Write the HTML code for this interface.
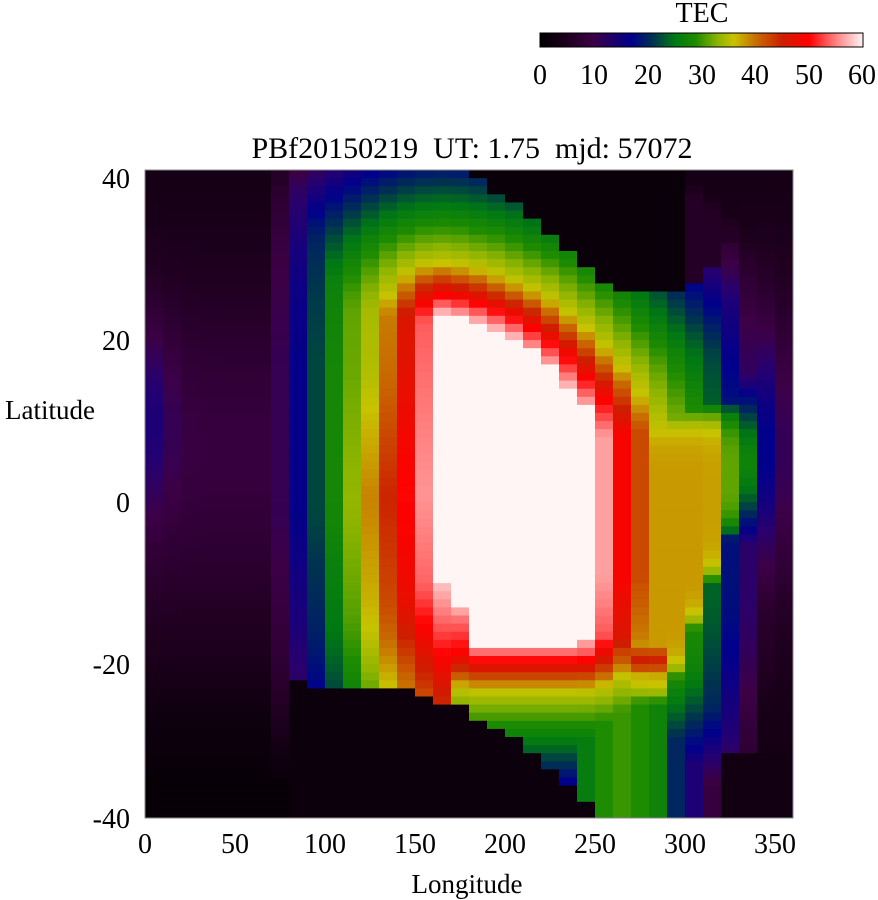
<!DOCTYPE html>
<html><head><meta charset="utf-8"><style>
html,body{margin:0;padding:0;background:#fff;}
svg{display:block;font-family:"Liberation Serif",serif;}
</style></head><body>
<svg id="s" width="878" height="900" xmlns="http://www.w3.org/2000/svg">
<defs>
<linearGradient id="cb" x1="0" x2="1" y1="0" y2="0">
<stop offset="0" stop-color="#000000"/>
<stop offset="0.083" stop-color="#1e001e"/>
<stop offset="0.167" stop-color="#3c0046"/>
<stop offset="0.283" stop-color="#00008c"/>
<stop offset="0.35" stop-color="#003250"/>
<stop offset="0.417" stop-color="#007814"/>
<stop offset="0.483" stop-color="#1e8c00"/>
<stop offset="0.55" stop-color="#8cb400"/>
<stop offset="0.6" stop-color="#c8c300"/>
<stop offset="0.667" stop-color="#c86e00"/>
<stop offset="0.75" stop-color="#cd1e00"/>
<stop offset="0.833" stop-color="#ff0000"/>
<stop offset="0.917" stop-color="#ff8282"/>
<stop offset="1" stop-color="#fff5f5"/>
</linearGradient>
</defs>
<g id="heat"></g>
<rect x="145" y="170" width="648" height="648" fill="none" stroke="#888" stroke-width="1"/>
<text x="702" y="22" font-size="28" text-anchor="middle">TEC</text>
<rect x="540" y="33" width="323" height="14" fill="url(#cb)" stroke="#000" stroke-width="1"/>
<g font-size="28" text-anchor="middle">
<text x="540" y="84">0</text><text x="594" y="84">10</text><text x="648" y="84">20</text>
<text x="702" y="84">30</text><text x="755" y="84">40</text><text x="809" y="84">50</text><text x="862" y="84">60</text>
</g>
<text x="472" y="158" font-size="30" text-anchor="middle" style="white-space:pre" xml:space="preserve">PBf20150219  UT: 1.75  mjd: 57072</text>
<g font-size="28" text-anchor="end">
<text x="130" y="188">40</text><text x="130" y="350">20</text><text x="130" y="512">0</text>
<text x="130" y="674">-20</text><text x="130" y="828">-40</text>
</g>
<g font-size="28" text-anchor="middle">
<text x="145" y="853">0</text><text x="235" y="853">50</text><text x="325" y="853">100</text>
<text x="415" y="853">150</text><text x="505" y="853">200</text><text x="595" y="853">250</text>
<text x="685" y="853">300</text><text x="775" y="853">350</text>
</g>
<text x="50" y="419" font-size="27" text-anchor="middle">Latitude</text>
<text x="467" y="893" font-size="27" text-anchor="middle">Longitude</text>
</svg>
<script>
(function(){
var stops=[[0,0,0,0],[5,30,0,30],[10,60,0,70],[13,40,0,110],[17,0,0,140],[21,0,50,80],[25,0,120,20],[29,30,140,0],[33,140,180,0],[36,200,195,0],[40,200,110,0],[45,205,30,0],[50,255,0,0],[55,255,130,130],[60,255,245,245]];
function col(v){if(v<=0)v=0;if(v>=60)v=60;for(var i=1;i<stops.length;i++){if(v<=stops[i][0]){var a=stops[i-1],b=stops[i],t=(v-a[0])/(b[0]-a[0]);return 'rgb('+Math.round(a[1]+t*(b[1]-a[1]))+','+Math.round(a[2]+t*(b[2]-a[2]))+','+Math.round(a[3]+t*(b[3]-a[3]))+')';}}return 'rgb(255,245,245)';}
var poly=[[160,21],[165,22.5],[180,21.8],[195,20.5],[205,19.5],[215,17.8],[225,16],[235,13.5],[245,11],[254,7],[254,-10],[250,-17],[242,-18.8],[185,-18.8],[178,-15],[170,-13],[162,-9.5],[159,0],[159,15]];
var SX=10,SY=2;
function inside(x,y){var c=false;for(var i=0,j=poly.length-1;i<poly.length;j=i++){var xi=poly[i][0],yi=poly[i][1],xj=poly[j][0],yj=poly[j][1];if(((yi>y)!=(yj>y))&&(x<(xj-xi)*(y-yi)/(yj-yi)+xi))c=!c;}return c;}
function dist(x,y){var m=1e9;for(var i=0,j=poly.length-1;i<poly.length;j=i++){var ax=poly[j][0]/SX,ay=poly[j][1]/SY,bx=poly[i][0]/SX,by=poly[i][1]/SY,px=x/SX,py=y/SY;var dx=bx-ax,dy=by-ay,t=((px-ax)*dx+(py-ay)*dy)/(dx*dx+dy*dy);t=Math.max(0,Math.min(1,t));var ex=ax+t*dx-px,ey=ay+t*dy-py;var d=Math.sqrt(ex*ex+ey*ey);if(d<m)m=d;}return m;}
var top=[40,40,40,40,40,40,40,40,40,40,40,40,40,40,40,40,40,40,39.4,37.2,36,34,32.2,30.1,28.3,26.3,25.3,24.5,24.5,25.3,26.3,28.3,31.3,34,37.2,39];
var bot=[-99,-99,-99,-99,-99,-99,-99,-99,-23.2,-23.5,-24,-24.2,-24.2,-24.2,-24.2,-25,-25.5,-26.3,-28.1,-29.1,-30.1,-32,-34,-36.2,-38,-99,-99,-99,-99,-99,-99,-99,-99,-99,-99,-99];
var tail={24:26,25:29,26:30,27:29,28:27,29:20,30:14,31:9,32:6};
function g(x){return Math.exp(-x*x);}
function sig(x){return 1/(1+Math.exp(-x));}
var out='';
for(var i=0;i<36;i++){var lon=i*10+5;
 for(var r=0;r<80;r++){var lat=40-r-0.5;
  var v;
  if(inside(lon,lat))v=62;
  else {
    SY=5; var d1=dist(lon,lat); var lin=58-5.6*d1;
    SY=(lat>0?2:1.8); var d2=dist(lon,lat); var nl=57-(d2<3?7*d2:21+3*(d2-3));
    var m=Math.min(lin,nl);
    if(lon<170){var w=Math.max(0,Math.min(1,1-lat/15));v=w*lin+(1-w)*m;}
    else v=m;
  }
  var b = lon<290 ? -27 : -27 + (lon-290)*18/30;
  var L = 38*Math.exp(-Math.pow((lon-295)/37,8))*sig((lat-b)/1.2)*sig((12-lat)/1.5);
  var R = 45*Math.exp(-Math.pow((lon-278)/24,4))*g((lat+20.5)/4);
  var T = (lat<-22 && tail[i]) ? tail[i] : 0;
  var S = 27*g((lon-335)/7)*g((lat-4)/12);
  var B = (3+6*g((lat-5)/22))+6*g(lon/15)*g((lat-10)/12)+8*g((lon-345)/9)*g((lat-6)/15);
  if(lon>300) B=Math.max(B,8*g((lat-0)/25));
  if(lat<-20&&lon<80)B*=Math.max(0.35,1-(-20-lat)/25);
  v=Math.max(v,L,R,T,S,B);
  if(lat>top[i])v=(lon>=300)?Math.min(v,6):1.5;
  if(lat<bot[i])v=2;
  if(lon>=320&&lat<-32)v=Math.min(v,3);
  var x=145+i*18,y=170+r*8.1;
  out+='<rect x="'+x+'" y="'+y.toFixed(1)+'" width="18.5" height="8.6" fill="'+col(v)+'"/>';
 }}
document.getElementById('heat').innerHTML=out;
})();
</script>
</body></html>
